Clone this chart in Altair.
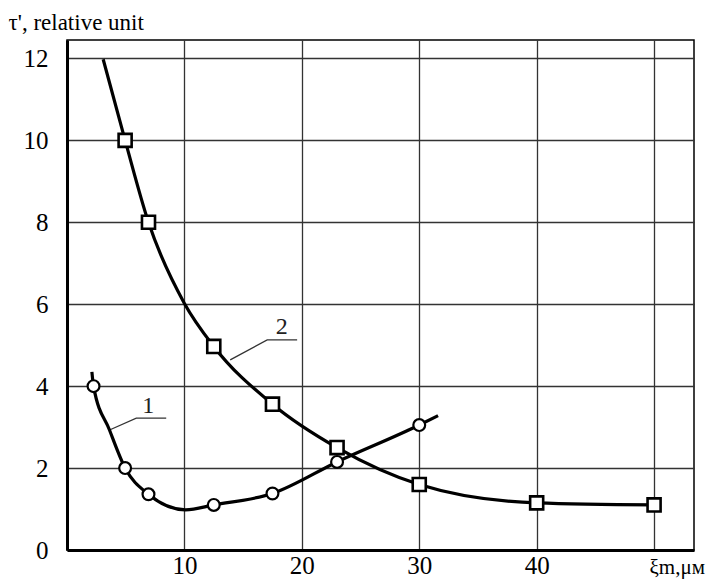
import altair as alt
import pandas as pd

# Curve 1 (circles) - traced line and measured points
c1_line_x = [2.12, 2.26, 3.62, 4.95, 6.94, 10.1, 12.5, 17.5, 23.0, 30.0, 31.6]
c1_line_y = [4.35, 4.0, 2.93, 2.0, 1.36, 0.98, 1.1, 1.38, 2.15, 3.05, 3.28]
c1_pts_x = [2.26, 4.95, 6.94, 12.5, 17.5, 23.0, 30.0]
c1_pts_y = [4.0, 2.0, 1.36, 1.1, 1.38, 2.15, 3.05]

# Curve 2 (squares)
c2_line_x = [3.08, 4.95, 6.94, 10.0, 12.5, 17.5, 23.0, 30.0, 40.0, 50.0]
c2_line_y = [11.98, 10.0, 8.0, 6.02, 4.97, 3.56, 2.5, 1.6, 1.15, 1.1]
c2_pts_x = [4.95, 6.94, 12.5, 17.5, 23.0, 30.0, 40.0, 50.0]
c2_pts_y = [10.0, 8.0, 4.97, 3.56, 2.5, 1.6, 1.15, 1.1]

# Leader lines and labels for curve numbers
lead_id = ["1", "1", "1", "2", "2", "2"]
lead_x = [3.62, 5.9, 8.45, 13.9, 17.05, 19.6]
lead_y = [2.93, 3.22, 3.22, 4.64, 5.13, 5.13]
lab_text = ["1", "2"]
lab_x = [6.92, 18.3]
lab_y = [3.34, 5.27]

x_grid = [10, 20, 30, 40, 50]
y_ticks = [0, 2, 4, 6, 8, 10, 12]

FONT = "Liberation Serif, DejaVu Serif, Noto Serif, serif"

c1_line = pd.DataFrame({"x": c1_line_x, "y": c1_line_y})
c1_pts = pd.DataFrame({"x": c1_pts_x, "y": c1_pts_y})
c2_line = pd.DataFrame({"x": c2_line_x, "y": c2_line_y})
c2_pts = pd.DataFrame({"x": c2_pts_x, "y": c2_pts_y})
lead = pd.DataFrame({"id": lead_id, "x": lead_x, "y": lead_y, "o": list(range(len(lead_x)))})
labs = pd.DataFrame({"t": lab_text, "x": lab_x, "y": lab_y})

xs = alt.Scale(domain=[0, 53.4], nice=False, zero=False)
ys = alt.Scale(domain=[0, 12.45], nice=False, zero=False)

x_axis = alt.Axis(values=x_grid, labelExpr="datum.value == 50 ? '' : datum.label",
                  ticks=False, labelPadding=23, labelBaseline="alphabetic",
                  labelFontSize=25, labelFont=FONT,
                  labelColor="black", grid=True, title="ξm,μм",
                  titleX=582, titleY=23, titleAlign="left", titleBaseline="alphabetic",
                  titleAnchor="start", titleFontSize=21, titleFont=FONT,
                  titleFontWeight="normal", titleColor="black", labelFlush=False)
y_axis = alt.Axis(values=y_ticks, ticks=False, labelPadding=19, labelFontSize=25,
                  labelFont=FONT, labelColor="black", grid=True,
                  title="τ', relative unit", titleAngle=0, titleX=-59, titleY=-11,
                  titleAlign="left", titleBaseline="alphabetic", titleFontSize=23,
                  titleFont=FONT, titleFontWeight="normal", titleColor="black",
                  labelBaseline="middle")

leaders = alt.Chart(lead).mark_line(color="#333", strokeWidth=1.3).encode(
    x=alt.X("x:Q", scale=xs, axis=x_axis),
    y=alt.Y("y:Q", scale=ys, axis=y_axis),
    detail="id:N", order="o:Q")

l1 = alt.Chart(c1_line).mark_line(color="black", strokeWidth=3.2, interpolate="monotone").encode(
    x=alt.X("x:Q", scale=xs), y=alt.Y("y:Q", scale=ys))
l2 = alt.Chart(c2_line).mark_line(color="black", strokeWidth=3.2, interpolate="monotone").encode(
    x=alt.X("x:Q", scale=xs), y=alt.Y("y:Q", scale=ys))

p1 = alt.Chart(c1_pts).mark_point(shape="circle", size=140, filled=True, fill="white",
                                  stroke="black", strokeWidth=2.2, opacity=1).encode(
    x=alt.X("x:Q", scale=xs), y=alt.Y("y:Q", scale=ys))
p2 = alt.Chart(c2_pts).mark_point(shape="square", size=170, filled=True, fill="white",
                                  stroke="black", strokeWidth=2.6, opacity=1).encode(
    x=alt.X("x:Q", scale=xs), y=alt.Y("y:Q", scale=ys))

texts = alt.Chart(labs).mark_text(font=FONT, fontSize=24, baseline="alphabetic",
                                  align="center", color="#222").encode(
    x=alt.X("x:Q", scale=xs), y=alt.Y("y:Q", scale=ys), text="t:N")

chart = alt.layer(leaders, l1, l2, p1, p2, texts).properties(
    width=627, height=510,
    padding={"left": 59, "top": 32, "right": 12, "bottom": 29},
    autosize=alt.AutoSizeParams(type="none"),
    background="white",
).configure_view(stroke="black", strokeWidth=1.5).configure_axis(
    domainColor="black", domainWidth=3, gridColor="#333", gridWidth=1.3, gridOpacity=1
)

chart.save("out.html", embed_options={"renderer": "svg", "actions": False})
